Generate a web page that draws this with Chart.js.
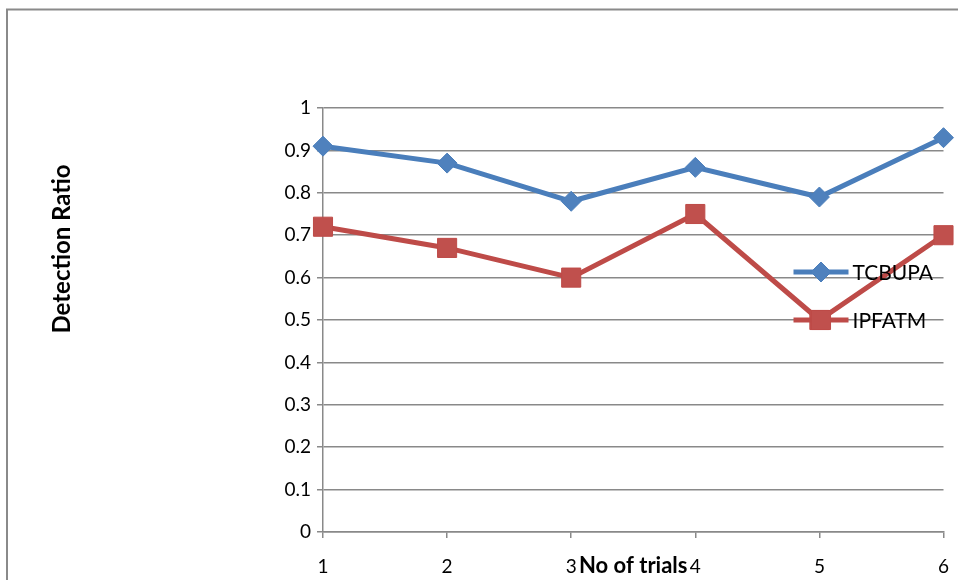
<!DOCTYPE html>
<html>
<head>
<meta charset="utf-8">
<script src="https://cdn.jsdelivr.net/npm/chart.js@4/dist/chart.umd.min.js"></script>
<style>
  html, body { margin: 0; padding: 0; background: #fff; }
  #wrap { width: 958px; height: 580px; position: relative; }
</style>
</head>
<body>
<div id="wrap"><canvas id="c" width="958" height="580"></canvas></div>
<script>
// Trial numbers along the x axis
const trials = ['1', '2', '3', '4', '5', '6'];
// Detection ratio per trial for each method
const tcbupa = [0.91, 0.87, 0.78, 0.86, 0.79, 0.93];
const ipfatm = [0.72, 0.67, 0.60, 0.75, 0.50, 0.70];
// Y axis tick values
const yTicks = [0, 0.1, 0.2, 0.3, 0.4, 0.5, 0.6, 0.7, 0.8, 0.9, 1];

const gridGray = '#898989';
const fontFamily = 'Lato, "Open Sans", sans-serif';

// Chart frame (left and top edges of the outer box)
const framePlugin = {
  id: 'frame',
  beforeDraw(chart) {
    const ctx = chart.ctx;
    ctx.save();
    ctx.strokeStyle = '#8a8a8a';
    ctx.lineWidth = 2;
    ctx.beginPath();
    ctx.moveTo(7, chart.height);
    ctx.lineTo(7, 9.5);
    ctx.lineTo(chart.width, 9.5);
    ctx.stroke();
    ctx.restore();
  }
};

// Vertical axis caption
const yCaptionPlugin = {
  id: 'yCaption',
  afterDraw(chart) {
    const ctx = chart.ctx;
    ctx.save();
    ctx.translate(62, 249);
    ctx.rotate(-Math.PI / 2);
    ctx.font = 'bold 24px ' + fontFamily;
    ctx.fillStyle = '#000';
    ctx.textAlign = 'center';
    ctx.textBaseline = 'middle';
    ctx.fillText('Detection Ratio', 0, 0);
    ctx.restore();
  }
};

// Legend drawn inside the plot, at the right side
const insideLegendPlugin = {
  id: 'insideLegend',
  afterDatasetsDraw(chart) {
    const ctx = chart.ctx;
    const area = chart.chartArea;
    const x0 = area.right - 150;
    const x1 = area.right - 95;
    const xm = (x0 + x1) / 2;
    const yStart = area.top + 164;
    const rowGap = 48;
    chart.data.datasets.forEach((ds, i) => {
      const y = yStart + i * rowGap;
      ctx.save();
      ctx.strokeStyle = ds.borderColor;
      ctx.lineWidth = ds.borderWidth;
      ctx.beginPath();
      ctx.moveTo(x0, y);
      ctx.lineTo(x1, y);
      ctx.stroke();
      ctx.fillStyle = ds.pointBackgroundColor;
      ctx.strokeStyle = ds.pointBorderColor;
      ctx.lineWidth = 1;
      ctx.beginPath();
      const r = ds.pointRadius;
      if (ds.pointStyle === 'rectRot') {
        ctx.moveTo(xm, y - r);
        ctx.lineTo(xm + r, y);
        ctx.lineTo(xm, y + r);
        ctx.lineTo(xm - r, y);
        ctx.closePath();
      } else {
        const h = r * Math.SQRT1_2;
        ctx.rect(xm - h, y - h, 2 * h, 2 * h);
      }
      ctx.fill();
      ctx.stroke();
      ctx.fillStyle = '#000';
      ctx.font = '21px ' + fontFamily;
      ctx.textAlign = 'left';
      ctx.textBaseline = 'middle';
      ctx.fillText(ds.label, x1 + 4, y + 1);
      ctx.restore();
    });
  }
};

new Chart(document.getElementById('c'), {
  type: 'line',
  data: {
    labels: trials,
    datasets: [
      {
        label: 'TCBUPA',
        data: tcbupa,
        borderColor: '#4A7EBB',
        backgroundColor: '#4F81BD',
        borderWidth: 5,
        pointStyle: 'rectRot',
        pointRadius: 10,
        pointBackgroundColor: '#4F81BD',
        pointBorderColor: '#4A7EBB',
        pointBorderWidth: 1,
        tension: 0
      },
      {
        label: 'IPFATM',
        data: ipfatm,
        borderColor: '#BE4B48',
        backgroundColor: '#C0504D',
        borderWidth: 5,
        pointStyle: 'rect',
        pointRadius: 13.5,
        pointBackgroundColor: '#C0504D',
        pointBorderColor: '#BE4B48',
        pointBorderWidth: 1,
        tension: 0
      }
    ]
  },
  plugins: [framePlugin, yCaptionPlugin, insideLegendPlugin],
  options: {
    responsive: false,
    animation: false,
    devicePixelRatio: 1,
    layout: { padding: { left: 0, top: 108, right: 13, bottom: 0 } },
    plugins: {
      legend: { display: false },
      tooltip: { enabled: false }
    },
    scales: {
      x: {
        type: 'category',
        offset: false,
        grid: {
          drawOnChartArea: false,
          drawTicks: true,
          tickLength: 6,
          color: gridGray,
          lineWidth: 1.5
        },
        border: { display: true, color: gridGray, width: 1.5 },
        ticks: {
          color: '#000',
          font: { family: fontFamily, size: 19 },
          padding: 17,
          maxRotation: 0,
          autoSkip: false
        },
        title: {
          display: true,
          text: 'No of trials',
          color: '#000',
          font: { family: fontFamily, size: 22, weight: 'bold' },
          padding: { top: 0, bottom: 1 }
        },
        afterFit(scale) {
          scale.height = 48;
          scale.paddingLeft = 0;
          scale.paddingRight = 0;
        }
      },
      y: {
        min: 0,
        max: 1,
        afterBuildTicks(scale) {
          scale.ticks = yTicks.map(v => ({ value: v }));
        },
        grid: {
          drawOnChartArea: true,
          drawTicks: true,
          tickLength: 6,
          color: gridGray,
          lineWidth: 1.5
        },
        border: { display: true, color: gridGray, width: 1.5 },
        ticks: {
          color: '#000',
          font: { family: fontFamily, size: 19 },
          padding: 6,
          callback: v => String(Number(v.toFixed(1)))
        },
        afterFit(scale) { scale.width = 323; }
      }
    }
  }
});
</script>
</body>
</html>
